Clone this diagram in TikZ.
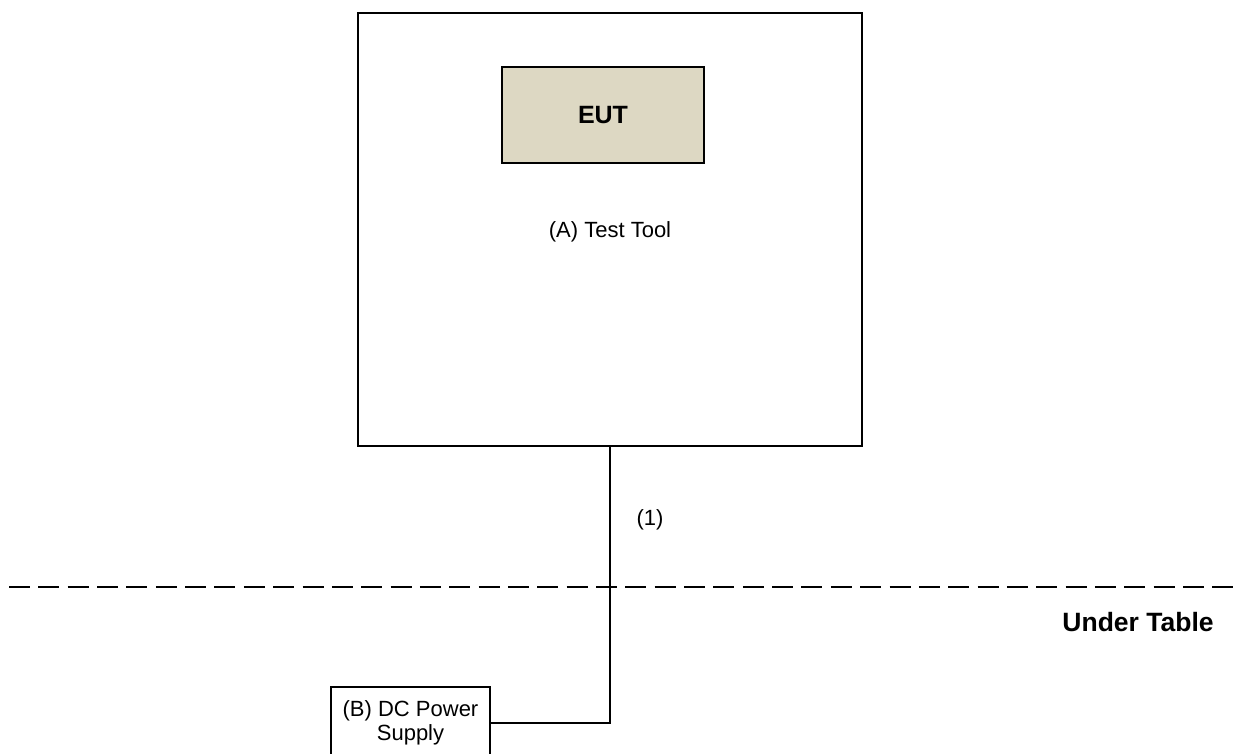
\documentclass[tikz,border=0pt]{standalone}
\usepackage{fontspec}
\setmainfont{Liberation Sans}
\definecolor{eutfill}{HTML}{DDD8C3}
\begin{document}
\begin{tikzpicture}[x=1pt,y=-1pt,
  box/.style={draw=black, line width=2.6pt, rectangle, inner sep=0pt},
  lbl/.style={font=\fontsize{22}{24}\selectfont, inner sep=0pt},
  blbl/.style={font=\fontsize{25}{28}\selectfont\bfseries, inner sep=0pt},
  wire/.style={draw=black, line width=2.4pt},
  tableline/.style={draw=black, line width=2.6pt, dash pattern=on 21pt off 8.35pt}]
\useasboundingbox (0,0) rectangle (1234,754);
\node[box, minimum width=504pt, minimum height=433pt] (tool) at (610,229.5) {};
\node[box, fill=eutfill, minimum width=202pt, minimum height=96pt, blbl] (eut) at (603,115) {EUT};
\node[lbl] (toollbl) at (610,232) {(A) Test Tool};
\node[box, minimum width=159pt, minimum height=72pt, lbl, align=center] (dc) at (410.5,723) {(B) DC Power\\[0pt]Supply};
\draw[wire] (tool.south) |- (dc.east);
\node[lbl] (one) at (650,520) {(1)};
\coordinate (tl) at (9,587);
\coordinate (tr) at (1234,587);
\draw[tableline] (tl) -- (tr);
\node[font=\fontsize{26.5}{30}\selectfont\bfseries, inner sep=0pt] (under) at (1138,622) {Under Table};
\end{tikzpicture}
\end{document}
